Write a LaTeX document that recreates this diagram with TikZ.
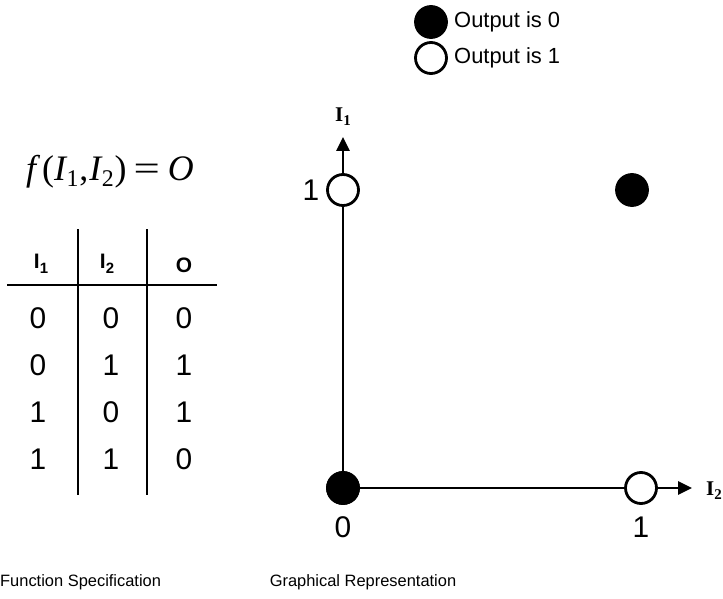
\documentclass[tikz,border=0pt]{standalone}
\usepackage{fontspec}
\setmainfont{Liberation Sans}
\newfontfamily\tms{Liberation Serif}
\usetikzlibrary{arrows.meta}
\begin{document}
\begin{tikzpicture}[x=1bp,y=-1bp]
\tikzset{
 dotfill/.style={circle,draw,fill=black,line width=2.8bp,minimum size=31bp,inner sep=0},
 dotopen/.style={circle,draw,fill=white,line width=2.8bp,minimum size=31bp,inner sep=0},
 axisline/.style={line width=2.8bp,-{Triangle[length=14bp,width=13bp]}},
 rulel/.style={line width=2.8bp},
 num/.style={font=\fontsize{30}{32}\selectfont,inner sep=0},
 hdr/.style={font=\bfseries\fontsize{21}{24}\selectfont,inner sep=0},
 leg/.style={font=\fontsize{22}{26}\selectfont,inner sep=0,anchor=west},
 captxt/.style={font=\fontsize{16.5}{20}\selectfont,inner sep=0},
 axl/.style={font=\tms\bfseries\fontsize{21}{24}\selectfont,inner sep=0},
}
\useasboundingbox (0,0) rectangle (723,599);
% legend
\node[dotfill] (l0) at (431,22) {};
\node[dotopen] (l1) at (431,58) {};
\node[leg] (t0) at (454,22) {Output is 0};
\node[leg] (t1) at (454,58) {Output is 1};
% formula
\node[font=\tms\fontsize{36}{40}\selectfont,inner sep=0] (fm) at (110,172)
 {\textit{f}\kern2bp(\textit{I}\kern-1bp\raisebox{-0.35ex}{\fontsize{24}{26}\selectfont 1}\kern1bp,\kern1bp\textit{I}\kern-1bp\raisebox{-0.35ex}{\fontsize{24}{26}\selectfont 2}\kern1bp)\kern7bp\scalebox{1.3}[1]{=}\kern8bp\textit{O}};
% table
\coordinate (v1t) at (78,229); \coordinate (v1b) at (78,495);
\coordinate (v2t) at (147,229); \coordinate (v2b) at (147,495);
\coordinate (hl) at (7,285); \coordinate (hr) at (217,285);
\draw[rulel] (v1t) -- (v1b);
\draw[rulel] (v2t) -- (v2b);
\draw[rulel] (hl) -- (hr);
\node[hdr] (h1) at (41,264) {I\raisebox{-0.45ex}{\fontsize{15}{17}\selectfont 1}};
\node[hdr] (h2) at (107,264) {I\raisebox{-0.45ex}{\fontsize{15}{17}\selectfont 2}};
\node[hdr] (h3) at (184,265) {O};
\foreach \r/\y/\a/\b/\c in {1/318/0/0/0,2/365/0/1/1,3/412/1/0/1,4/459/1/1/0}{
 \node[num] (a\r) at (38,\y) {\a};
 \node[num] (b\r) at (111,\y) {\b};
 \node[num] (c\r) at (184,\y) {\c};
}
% graph
\coordinate (ytip) at (343,137);
\coordinate (xtip) at (692,488);
\node[dotfill] (o) at (343,488) {};
\draw[axisline] (o.center) -- (ytip);
\draw[axisline] (o.center) -- (xtip);
\node[dotfill] (o) at (343,488) {};
\node[dotopen] (p01) at (343,190) {};
\node[dotfill] (p11) at (632,190) {};
\node[dotopen] (p10) at (641,488) {};
\node[axl] (yl) at (343,117) {I\raisebox{-0.4ex}{\fontsize{15}{17}\selectfont 1}};
\node[axl] (xl) at (714,491) {I\raisebox{-0.4ex}{\fontsize{15}{17}\selectfont 2}};
\node[num] (y1) at (311,190) {1};
\node[num] (x0) at (343,527) {0};
\node[num] (x1) at (641,527) {1};
% captions
\node[captxt,anchor=west] (c1) at (0,582) {Function Specification};
\node[captxt] (c2) at (363,582) {Graphical Representation};
\end{tikzpicture}
\end{document}
